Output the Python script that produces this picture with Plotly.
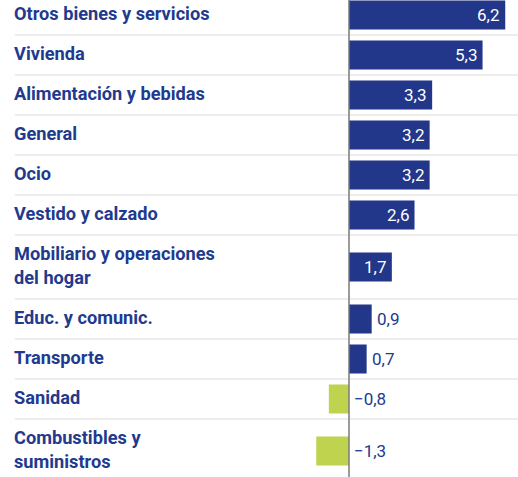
import plotly.graph_objects as go

# Datos (variación anual, %)
categorias = [
    "Otros bienes y servicios",
    "Vivienda",
    "Alimentación y bebidas",
    "General",
    "Ocio",
    "Vestido y calzado",
    "Mobiliario y operaciones<br>del hogar",
    "Educ. y comunic.",
    "Transporte",
    "Sanidad",
    "Combustibles y<br>suministros",
]
valores = [6.2, 5.3, 3.3, 3.2, 3.2, 2.6, 1.7, 0.9, 0.7, -0.8, -1.3]

AZUL = "#22368a"
VERDE = "#bfd34f"
TEXTO = "#213a8e"
W, H = 518, 477
X0 = 349          # posición del eje cero en px
PX_UNIDAD = 25.2  # px por unidad

# alturas de fila según número de líneas de la etiqueta
alturas = [40 if "<br>" not in c else 64 for c in categorias]
tops = []
y = -5
for h in alturas:
    tops.append(y)
    y += h
centros = [t + h / 2 for t, h in zip(tops, alturas)]

fig = go.Figure()
fig.add_trace(go.Bar(
    x=valores,
    y=centros,
    orientation="h",
    width=29,
    marker=dict(color=[AZUL if v >= 0 else VERDE for v in valores], line=dict(width=0)),
    hoverinfo="skip",
))


def fmt(v):
    s = f"{abs(v):.1f}".replace(".", ",")
    return ("\u2212" + s) if v < 0 else s


for cat, v, yc in zip(categorias, valores, centros):
    fig.add_annotation(
        x=12 / W, xref="paper", y=yc, yref="y", yshift=1.5,
        text=f"<b>{cat}</b>", showarrow=False, xanchor="left", yanchor="middle",
        align="left", font=dict(family="Roboto", size=18.2, color=TEXTO),
    )
    if v >= 1.5:
        fig.add_annotation(
            x=v, y=yc, text=fmt(v), showarrow=False, xanchor="right", xshift=-4,
            font=dict(family="Roboto", size=17, color="white"),
        )
    else:
        fig.add_annotation(
            x=max(v, 0), y=yc, text=fmt(v), showarrow=False, xanchor="left", xshift=3,
            font=dict(family="Roboto", size=17, color=TEXTO),
        )

# separadores entre filas
for t in tops[1:]:
    fig.add_shape(type="line", xref="paper", x0=15 / W, x1=1, y0=t, y1=t,
                  line=dict(color="#ededed", width=2), layer="below")

# línea del cero
fig.add_shape(type="line", x0=0, x1=0, yref="paper", y0=0, y1=1,
              line=dict(color="#7a7a7a", width=1.5), layer="above")

fig.update_layout(
    width=W, height=H,
    margin=dict(l=0, r=0, t=0, b=0),
    plot_bgcolor="white", paper_bgcolor="white",
    showlegend=False,
    xaxis=dict(range=[-X0 / PX_UNIDAD, (W - X0) / PX_UNIDAD], visible=False, fixedrange=True),
    yaxis=dict(range=[H, 0], visible=False, fixedrange=True),
)

fig.write_html(
    "out.html",
    config={"displayModeBar": False},
    post_script="document.body.style.margin='0';document.body.style.overflow='hidden';",
)
